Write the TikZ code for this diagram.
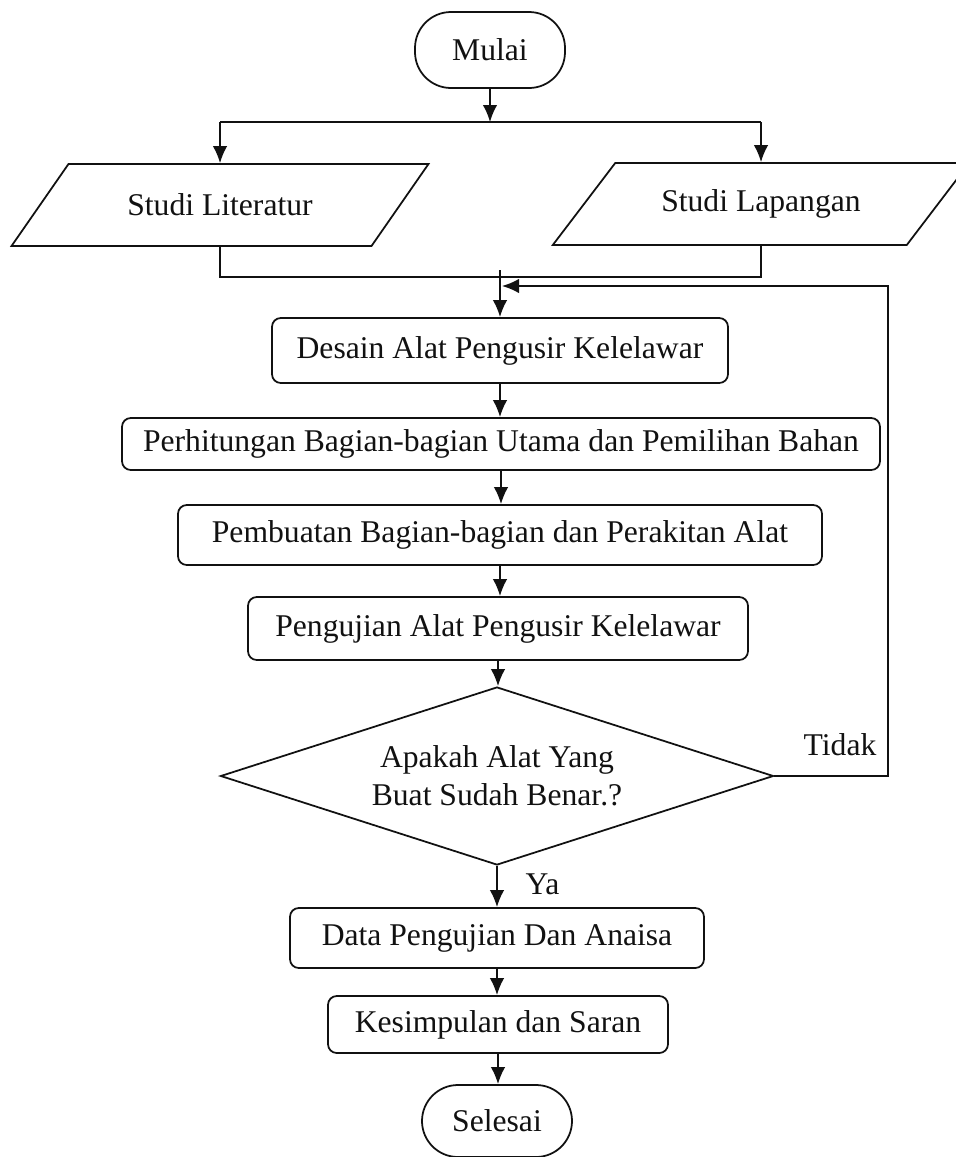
\documentclass[tikz,border=0pt]{standalone}
\usepackage{fontspec}
\setmainfont{Liberation Serif}
\usepackage{tikz}
\usetikzlibrary{positioning,shapes.geometric,arrows.meta,calc}
\definecolor{ink}{HTML}{111111}
\tikzset{
  >={Latex[length=3.4mm,width=2.9mm]},
  every node/.style={font=\fontsize{18}{21.5}\selectfont, text=ink},
  % --- nodes
  term/.style  = {rectangle, rounded corners=0.72cm, draw=ink, line width=1pt,
                  minimum width=3cm, minimum height=1.52cm, inner sep=2pt},
  io/.style    = {trapezium, trapezium left angle=39, trapezium right angle=141,
                  trapezium stretches=true, draw=ink, line width=1pt,
                  minimum width=8.34cm, minimum height=1.64cm, inner sep=2pt},
  proc/.style  = {rectangle, rounded corners=5pt, draw=ink, line width=1pt,
                  align=center, inner sep=2pt},
  cond/.style  = {diamond, aspect=3.1, draw=ink, line width=1pt, align=center,
                  inner sep=0pt, minimum width=11.06cm, minimum height=3.56cm},
  lbl/.style   = {inner sep=1pt},
  % --- edges
  e/.style     = {->, line width=1pt, draw=ink},
  ln/.style    = {line width=1pt, draw=ink},
}

\begin{document}
\begin{tikzpicture}
  \useasboundingbox (0,0) rectangle (19.1,-23.14);
  % start and the two studies
  \node[term] (mulai) at (9.8,-1.0) {Mulai};
  \node[io] (lit) at (4.4,-4.1) {Studi Literatur};
  \node[io] (lap) at (15.22,-4.08) {Studi Lapangan};
  \coordinate (split) at (9.8,-2.44);
  \coordinate (join) at (10.0,-5.54);
  \coordinate (jtop) at (10.0,-5.40);
  % main column
  \node[proc, minimum width=9.12cm, minimum height=1.3cm] (desain) at (10.0,-7.01)
       {Desain Alat Pengusir Kelelawar};
  \node[proc, minimum width=15.16cm, minimum height=1.04cm] (hitung) at (10.02,-8.88)
       {Perhitungan Bagian-bagian Utama dan Pemilihan Bahan};
  \node[proc, minimum width=12.88cm, minimum height=1.2cm] (buat) at (10.0,-10.7)
       {Pembuatan Bagian-bagian dan Perakitan Alat};
  \node[proc, minimum width=10cm, minimum height=1.26cm] (uji) at (9.96,-12.57)
       {Pengujian Alat Pengusir Kelelawar};
  \node[cond] (cek) at (9.94,-15.52) {Apakah Alat Yang\\Buat Sudah Benar.?};
  \node[proc, minimum width=8.28cm, minimum height=1.2cm] (data) at (9.94,-18.76)
       {Data Pengujian Dan Anaisa};
  \node[proc, minimum width=6.8cm, minimum height=1.14cm] (simpul) at (9.96,-20.49)
       {Kesimpulan dan Saran};
  \node[term, minimum height=1.44cm] (selesai) at (9.94,-22.42) {Selesai};
  \coordinate (back) at (17.76,-5.72);
  \coordinate (loop) at (10.04,-5.72);

  \draw[e] (mulai) -- (split);
  \draw[ln] (lit.north |- split) -- (lap.north |- split);
  \draw[e] (lit.north |- split) -- (lit.north);
  \draw[e] (lap.north |- split) -- (lap.north);
  \draw[ln] (lit.south) -- (lit.south |- join) -- (lap.south |- join) -- (lap.south);
  \draw[e] (jtop) -- (desain.north);
  \draw[e] (desain.south) -- (desain.south |- hitung.north);
  \draw[e] (hitung.south) -- (hitung.south |- buat.north);
  \draw[e] (buat.south) -- (buat.south |- uji.north);
  \draw[e] (uji.south) -- (uji.south |- cek.north);
  \draw[e] (cek.east) -| (back) -- (loop);
  \node[lbl] (tidak) at (16.8,-14.9) {Tidak};
  \draw[e] (cek.south) -- (cek.south |- data.north);
  \node[lbl] (ya) at (10.85,-17.68) {Ya};
  \draw[e] (data.south) -- (data.south |- simpul.north);
  \draw[e] (simpul.south) -- (simpul.south |- selesai.north);
\end{tikzpicture}
\end{document}
